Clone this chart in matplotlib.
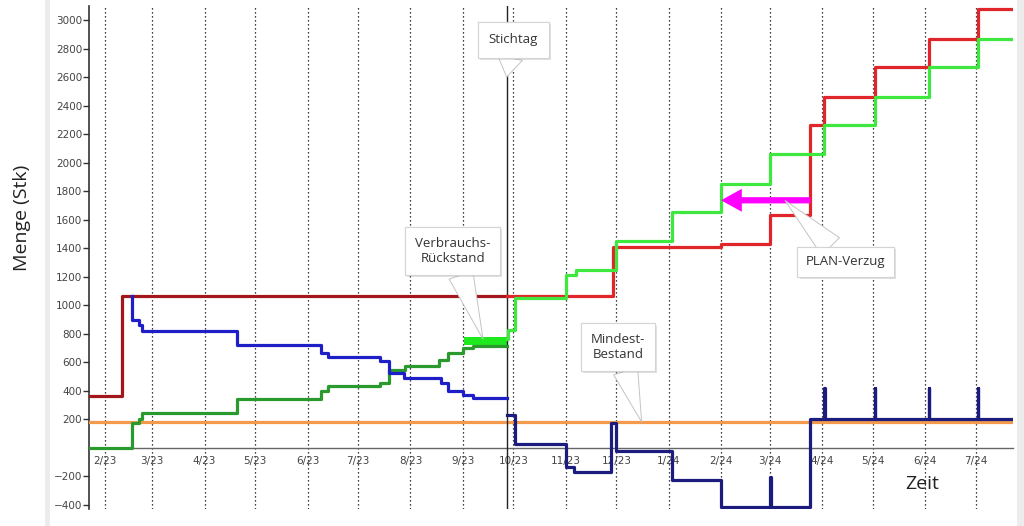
import numpy as np
import pandas as pd
import matplotlib
matplotlib.use("Agg")
import matplotlib.pyplot as plt
import matplotlib.dates as mdates
import matplotlib.patheffects as pe
from matplotlib.patches import Rectangle

# Zeitachse
x_start = "2023-01-22 12:00"
x_end = "2024-07-23"
stichtag = "2023-09-27"

month_ticks = pd.date_range("2023-02-01", "2024-07-01", freq="MS")
month_labels = [f"{d.month}/{d:%y}" for d in month_ticks]
y_ticks = [-400, -200, 200, 400, 600, 800, 1000, 1200, 1400, 1600, 1800,
           2000, 2200, 2400, 2600, 2800, 3000]

# Bedarf (Ist, dunkelrot) und Plan (rot)
bedarf_ist_x = ["2023-01-22", "2023-02-11", "2023-09-27"]
bedarf_ist_y = [365, 1060, 1060]
bedarf_plan_x = ["2023-09-27", "2023-11-29", "2024-02-01", "2024-03-01", "2024-03-25",
                 "2024-04-02", "2024-05-02", "2024-06-03", "2024-07-02", "2024-07-23"]
bedarf_plan_y = [1060, 1410, 1430, 1630, 2260, 2460, 2670, 2870, 3075, 3075]

# Verbrauch (Ist, dunkelgruen) und Plan (hellgruen)
verbrauch_ist_x = ["2023-01-22", "2023-02-17", "2023-02-21", "2023-02-23", "2023-04-20",
                   "2023-06-09", "2023-06-13", "2023-07-14", "2023-07-19", "2023-07-29",
                   "2023-08-18", "2023-08-23", "2023-09-01", "2023-09-07", "2023-09-27"]
verbrauch_ist_y = [0, 170, 200, 245, 340, 395, 430, 455, 545, 575, 615, 665, 695, 715, 715]
verbrauch_plan_x = ["2023-09-27", "2023-09-28", "2023-10-02", "2023-11-01", "2023-11-07",
                    "2023-12-01", "2024-01-03", "2024-02-01", "2024-03-01", "2024-04-02",
                    "2024-05-02", "2024-06-03", "2024-07-02", "2024-07-23"]
verbrauch_plan_y = [760, 825, 1050, 1210, 1245, 1450, 1650, 1850, 2060, 2260, 2460,
                    2670, 2870, 2870]

# Bestand (Ist, blau) und Plan (dunkelblau)
bestand_ist_x = ["2023-02-17", "2023-02-17", "2023-02-21", "2023-02-23", "2023-04-20",
                 "2023-06-09", "2023-06-13", "2023-07-14", "2023-07-19", "2023-07-28",
                 "2023-08-19", "2023-08-23", "2023-09-01", "2023-09-07", "2023-09-27"]
bestand_ist_y = [1060, 895, 860, 815, 720, 665, 633, 605, 520, 490, 450, 400, 368, 345, 345]
bestand_plan_x = ["2023-09-27", "2023-10-02", "2023-11-01", "2023-11-06", "2023-11-28",
                  "2023-12-01", "2024-01-03", "2024-02-01", "2024-03-01 00:00",
                  "2024-03-01 12:00", "2024-03-25", "2024-04-02 00:00", "2024-04-02 12:00",
                  "2024-05-02 00:00", "2024-05-02 12:00", "2024-06-03 00:00",
                  "2024-06-03 12:00", "2024-07-02 00:00", "2024-07-02 12:00", "2024-07-23"]
bestand_plan_y = [230, 25, -135, -170, 170, -22, -225, -420, -210, -420, 200, 415, 200,
                  415, 200, 415, 200, 415, 200, 200]

# Mindestbestand
mindest_x = ["2023-01-22", "2024-07-23"]
mindest_y = [178, 178]

# Verbrauchs-Rueckstand (Block)
rueckstand_x = ["2023-09-01 12:00", "2023-09-27 00:00"]
rueckstand_lo = [717, 717]
rueckstand_hi = [778, 778]

# PLAN-Verzug Pfeil
verzug_von = ("2024-03-25", 1735)
verzug_bis = ("2024-02-01", 1735)


def d(v):
    return pd.to_datetime(v, format="mixed")


fig = plt.figure(figsize=(10.24, 5.26), dpi=100)
ax = fig.add_axes([0.0869, 0.0327, 0.9023, 0.9563])

lw = 2.3
ax.step(d(mindest_x), mindest_y, where="post", color="#f39a4c", lw=lw, zorder=3)
ax.fill_between(d(rueckstand_x), rueckstand_lo, rueckstand_hi, color="#1ee81e", lw=0, zorder=4)
ax.step(d(bedarf_ist_x), bedarf_ist_y, where="post", color="#a3161c", lw=lw, zorder=5)
ax.step(d(bedarf_plan_x), bedarf_plan_y, where="post", color="#e0262a", lw=lw, zorder=5)
ax.step(d(verbrauch_ist_x), verbrauch_ist_y, where="post", color="#2a9a2e", lw=lw, zorder=5)
ax.step(d(verbrauch_plan_x), verbrauch_plan_y, where="post", color="#3ee83e", lw=lw, zorder=5)
ax.step(d(bestand_ist_x), bestand_ist_y, where="post", color="#1f1fc8", lw=lw, zorder=5)
ax.step(d(bestand_plan_x), bestand_plan_y, where="post", color="#1c1c7e", lw=lw, zorder=5)

ax.axvline(d(stichtag), color="#222222", lw=1.0, zorder=4)

ax.set_xlim(d(x_start), d(x_end))
ax.set_ylim(-430, 3100)
ax.set_xticks(month_ticks)
ax.set_xticklabels(month_labels)
ax.set_yticks(y_ticks)

ax.grid(axis="x", color="black", ls=(0, (1, 2.2)), lw=0.9)
ax.set_axisbelow(True)
for s in ["top", "right"]:
    ax.spines[s].set_visible(False)
ax.spines["bottom"].set_position(("data", 0))
ax.spines["bottom"].set_color("#666666")
ax.spines["bottom"].set_linewidth(1.0)
ax.spines["left"].set_color("#333333")
ax.spines["left"].set_linewidth(1.2)
ax.tick_params(axis="x", length=0, pad=6, labelsize=7.5, labelcolor="#444444")
ax.tick_params(axis="y", length=4, width=1.0, color="#333333", pad=1,
               labelsize=7.5, labelcolor="#444444")

# Beschriftungen
fig.text(0.021, 0.585, "Menge (Stk)", rotation=90, ha="center", va="center",
         fontsize=14, family="Open Sans", color="#222222")
ax.text(d("2024-05-30"), -256, "Zeit", ha="center", va="center", fontsize=14,
        family="Open Sans", color="#222222")

shadow = [pe.withSimplePatchShadow(offset=(1.5, -1.5), shadow_rgbFace="#888888", alpha=0.25),
          pe.Normal()]


def callout(text, xy, xytext, pad=0.75):
    ann = ax.annotate(text, xy=(d(xy[0]), xy[1]), xytext=(d(xytext[0]), xytext[1]),
                      ha="center", va="center", fontsize=9.5, family="Open Sans",
                      color="#333333", linespacing=1.15, zorder=10,
                      bbox=dict(boxstyle=f"square,pad={pad}", fc="white", ec="#d4d4d4", lw=0.8),
                      arrowprops=dict(arrowstyle="wedge,tail_width=1.9,shrink_factor=0.5",
                                      fc="white", ec="#c4c4c4", lw=0.7,
                                      shrinkA=0, shrinkB=0))
    ann.get_bbox_patch().set_path_effects(shadow)
    return ann


callout("Stichtag", ("2023-09-27", 2600), ("2023-10-01", 2860), pad=0.85)
callout("Verbrauchs-\nRückstand", ("2023-09-13", 761), ("2023-08-26", 1379))
callout("Mindest-\nBestand", ("2023-12-16", 179), ("2023-12-02", 705))
callout("PLAN-Verzug", ("2024-03-10", 1733), ("2024-04-15", 1302), pad=0.65)

ax.annotate("", xy=(d(verzug_bis[0]), verzug_bis[1]),
            xytext=(d(verzug_von[0]), verzug_von[1]),
            arrowprops=dict(arrowstyle="simple,head_length=1.0,head_width=1.1,tail_width=0.3",
                            mutation_scale=15, fc="#ff00ff", ec="none",
                            shrinkA=0, shrinkB=0), zorder=9)

# Rahmen des Screenshots
fig.add_artist(Rectangle((0.044, 0), 0.005, 1, transform=fig.transFigure,
                         color="#ececec", lw=0))
fig.add_artist(Rectangle((0.993, 0), 0.007, 1, transform=fig.transFigure,
                         color="#ececec", lw=0))

fig.savefig("out.png", dpi=100)
